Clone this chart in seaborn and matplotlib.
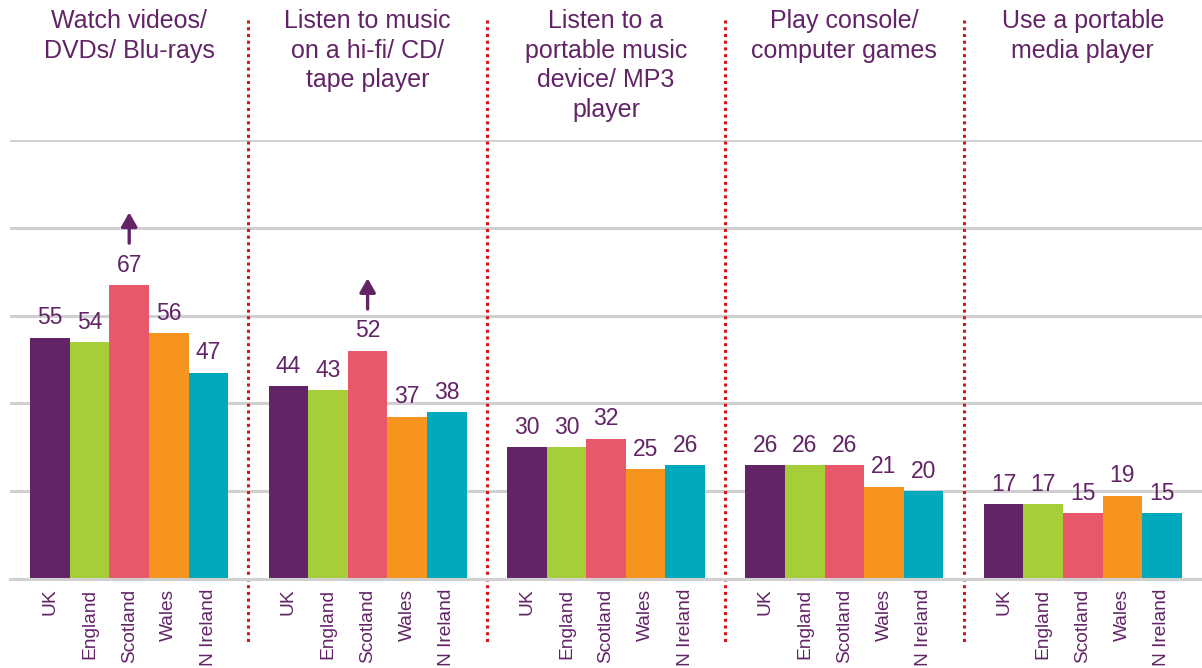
import matplotlib
matplotlib.use("Agg")
import matplotlib.pyplot as plt
import matplotlib.transforms as mtransforms
import seaborn as sns
import pandas as pd

# Activities, nations and percentages
activities = [
    "Watch videos/\nDVDs/ Blu-rays",
    "Listen to music\non a hi-fi/ CD/\ntape player",
    "Listen to a\nportable music\ndevice/ MP3\nplayer",
    "Play console/\ncomputer games",
    "Use a portable\nmedia player",
]
nations = ["UK", "England", "Scotland", "Wales", "N Ireland"]
uk = [55, 44, 30, 26, 17]
england = [54, 43, 30, 26, 17]
scotland = [67, 52, 32, 26, 15]
wales = [56, 37, 25, 21, 19]
n_ireland = [47, 38, 26, 20, 15]
# Activities where Scotland is significantly higher than the UK
scotland_higher = [0, 1]

colors = ["#622466", "#A6CE39", "#E8586A", "#F7941E", "#00A9BC"]
text_color = "#622466"

series = [uk, england, scotland, wales, n_ireland]
rows = []
for nation, vals in zip(nations, series):
    for act, v in zip(activities, vals):
        rows.append({"activity": act, "nation": nation, "value": v})
df = pd.DataFrame(rows)

sns.set_theme(style="white")
plt.rcParams["font.family"] = ["Liberation Sans", "DejaVu Sans"]

fig = plt.figure(figsize=(12.02, 6.68), dpi=100)
ax = fig.add_axes([10 / 1202, 89 / 668, 1192 / 1202, 439 / 668])

sns.barplot(data=df, x="activity", y="value", hue="nation", hue_order=nations,
            order=activities, palette=colors, width=0.83, saturation=1,
            legend=False, ax=ax, errorbar=None, linewidth=0, edgecolor="none")

ax.set_xlim(-0.5, 4.5)
ax.set_ylim(0, 100)
ax.set_yticks([20, 40, 60, 80, 100])
ax.set_yticklabels([])
ax.tick_params(axis="y", length=0)
ax.yaxis.grid(True, color="#D0D0D0", linewidth=2.2)
ax.set_axisbelow(True)
for s in ["top", "right", "left"]:
    ax.spines[s].set_visible(False)
ax.spines["bottom"].set_color("#D0D0D0")
ax.spines["bottom"].set_linewidth(2.2)
ax.set_xlabel("")
ax.set_ylabel("")

# Nation labels under each bar and value labels above
ticks, labels = [], []
for nation, cont in zip(nations, ax.containers):
    for p in cont.patches:
        ticks.append(p.get_x() + p.get_width() / 2)
        labels.append(nation)
    ax.bar_label(cont, fmt="%d", padding=6, fontsize=16.5, color=text_color)
ax.set_xticks(ticks)
ax.set_xticklabels(labels, rotation=90, fontsize=13.8, color=text_color)
ax.tick_params(axis="x", length=0, pad=7)

# Arrows above Scotland bars
scot_cont = ax.containers[nations.index("Scotland")]
for i in scotland_higher:
    p = scot_cont.patches[i]
    xc = p.get_x() + p.get_width() / 2
    v = scotland[i]
    ax.annotate("", xy=(xc, v + 16.5), xytext=(xc, v + 9.5),
                arrowprops=dict(arrowstyle="-|>,head_length=0.7,head_width=0.4",
                                color=text_color, lw=2.4, shrinkA=0, shrinkB=0),
                annotation_clip=False)

# Group titles and dotted separators
trans = mtransforms.blended_transform_factory(ax.transData, ax.transAxes)
for i, act in enumerate(activities):
    ax.text(i, (579 - 9) / 439, act, transform=trans, ha="center", va="top",
            fontsize=18, color=text_color, linespacing=1.3)
for i in range(len(activities) - 1):
    ax.plot([i + 0.5, i + 0.5], [(579 - 20) / 439, (579 - 642) / 439],
            transform=trans, color="#D7141A", linewidth=2.2,
            linestyle=(0, (1, 1.2)), clip_on=False)

fig.savefig("out.png", dpi=100)
